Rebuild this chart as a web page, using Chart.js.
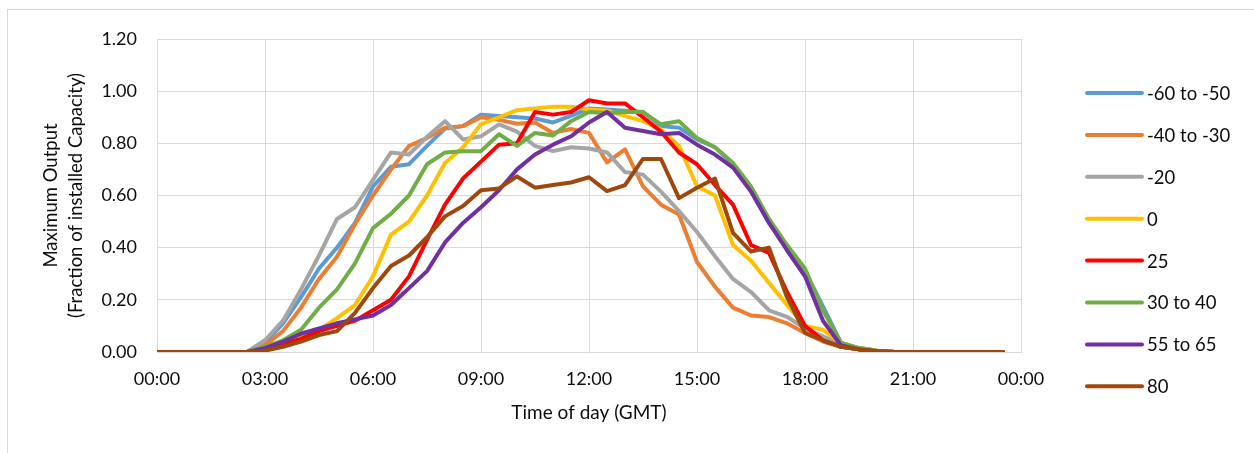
<!DOCTYPE html>
<html>
<head>
<meta charset="utf-8">
<script src="https://cdn.jsdelivr.net/npm/chart.js@4.4.1/dist/chart.umd.min.js"></script>
<style>
  html, body { margin: 0; padding: 0; background: #ffffff; }
  #wrap { width: 1254px; height: 453px; }
</style>
</head>
<body>
<div id="wrap"><canvas id="c" width="1254" height="453"></canvas></div>
<script>
const times = ["00:00","00:30","01:00","01:30","02:00","02:30","03:00","03:30","04:00","04:30",
  "05:00","05:30","06:00","06:30","07:00","07:30","08:00","08:30","09:00","09:30",
  "10:00","10:30","11:00","11:30","12:00","12:30","13:00","13:30","14:00","14:30",
  "15:00","15:30","16:00","16:30","17:00","17:30","18:00","18:30","19:00","19:30",
  "20:00","20:30","21:00","21:30","22:00","22:30","23:00","23:30"];

const seriesNames = ["-60 to -50", "-40 to -30", "-20", "0", "25", "30 to 40", "55 to 65", "80"];

const s60to50 = [0,0,0,0,0, 0,0.035,0.11,0.21,0.32, 0.40,0.495,0.635,0.71,0.72, 0.79,0.857,0.866,0.91,0.905,
  0.90,0.895,0.88,0.905,0.934, 0.93,0.925,0.92,0.866,0.86, 0.815,0.785,0.72,0.62,0.495,
  0.405,0.31,0.175,0.035,0.015, 0.005,0,0,0,0, 0,0,0];
const s40to30 = [0,0,0,0,0, 0,0.025,0.08,0.17,0.28, 0.365,0.49,0.60,0.70,0.79, 0.82,0.86,0.866,0.90,0.89,
  0.875,0.88,0.84,0.855,0.84, 0.727,0.777,0.635,0.565,0.527, 0.345,0.25,0.17,0.14,0.134,
  0.11,0.073,0.04,0.02,0.01, 0.003,0,0,0,0, 0,0,0];
const s20 = [0,0,0,0,0, 0,0.045,0.12,0.24,0.37, 0.51,0.555,0.66,0.765,0.757, 0.825,0.885,0.815,0.827,0.873,
  0.845,0.79,0.77,0.785,0.78, 0.765,0.69,0.68,0.615,0.54, 0.46,0.367,0.28,0.23,0.16,
  0.135,0.09,0.06,0.03,0.015, 0.005,0,0,0,0, 0,0,0];
const s0 = [0,0,0,0,0, 0,0.01,0.03,0.055,0.085, 0.13,0.18,0.29,0.45,0.50, 0.60,0.725,0.785,0.873,0.90,
  0.927,0.934,0.94,0.94,0.93, 0.925,0.905,0.885,0.853,0.79, 0.635,0.60,0.41,0.35,0.265,
  0.18,0.10,0.085,0.035,0.015, 0.005,0,0,0,0, 0,0,0];
const s25 = [0,0,0,0,0, 0,0.012,0.03,0.05,0.08, 0.10,0.12,0.16,0.20,0.29, 0.43,0.565,0.665,0.73,0.795,
  0.80,0.92,0.91,0.92,0.965, 0.953,0.953,0.90,0.845,0.765, 0.72,0.64,0.565,0.41,0.38,
  0.23,0.10,0.045,0.02,0.01, 0.003,0,0,0,0, 0,0,0];
const s30to40 = [0,0,0,0,0, 0,0.02,0.045,0.085,0.17, 0.24,0.34,0.475,0.53,0.60, 0.72,0.765,0.77,0.77,0.835,
  0.79,0.84,0.83,0.885,0.92, 0.915,0.92,0.92,0.873,0.885, 0.82,0.785,0.725,0.635,0.51,
  0.41,0.32,0.16,0.035,0.015, 0.005,0,0,0,0, 0,0,0];
const s55to65 = [0,0,0,0,0, 0,0.015,0.04,0.07,0.09, 0.11,0.125,0.14,0.18,0.245, 0.31,0.42,0.495,0.555,0.62,
  0.70,0.757,0.795,0.827,0.88, 0.92,0.86,0.847,0.835,0.84, 0.795,0.757,0.707,0.615,0.495,
  0.39,0.29,0.12,0.025,0.01, 0.003,0,0,0,0, 0,0,0];
const s80 = [0,0,0,0,0, 0,0.005,0.02,0.04,0.065, 0.08,0.15,0.245,0.33,0.37, 0.44,0.52,0.56,0.62,0.627,
  0.673,0.63,0.64,0.65,0.67, 0.617,0.64,0.74,0.74,0.59, 0.63,0.665,0.457,0.385,0.40,
  0.21,0.073,0.045,0.02,0.01, 0.003,0,0,0,0, 0,0,0];

const seriesValues = [s60to50, s40to30, s20, s0, s25, s30to40, s55to65, s80];
const seriesColors = ["#5B9BD5", "#ED7D31", "#A5A5A5", "#FFC000", "#FF0000", "#70AD47", "#7030A0", "#9E480E"];

const xTickHours = [0, 3, 6, 9, 12, 15, 18, 21, 24];
const yTicks = [0, 0.2, 0.4, 0.6, 0.8, 1.0, 1.2];

function toHours(t) { const p = t.split(":"); return parseInt(p[0], 10) + parseInt(p[1], 10) / 60; }

const FONT = "Lato, 'Open Sans', sans-serif";
const TEXT = "#0d0d0d";
const GRID = "#d9d9d9";

const datasets = seriesNames.map((name, i) => ({
  label: name,
  data: times.map((t, k) => ({ x: toHours(t), y: seriesValues[i][k] })),
  borderColor: seriesColors[i],
  backgroundColor: seriesColors[i],
  borderWidth: 4,
  pointRadius: 0,
  tension: 0,
  fill: false,
  borderJoinStyle: "round",
  borderCapStyle: "round",
  order: -i
}));

const frameAndLegend = {
  id: "frameAndLegend",
  beforeDraw(chart) {
    const ctx = chart.ctx;
    ctx.save();
    ctx.fillStyle = "#ffffff";
    ctx.fillRect(0, 0, chart.width, chart.height);
    ctx.strokeStyle = GRID;
    ctx.lineWidth = 1;
    ctx.strokeRect(7.5, 9.5, 1260, 460);
    ctx.restore();
  },
  afterDraw(chart) {
    const ctx = chart.ctx;
    ctx.save();
    const x0 = 1087, x1 = 1142, top = 93, step = 41.9;
    ctx.font = "18.5px " + FONT;
    ctx.textBaseline = "middle";
    ctx.textAlign = "left";
    seriesNames.forEach((name, i) => {
      const y = top + i * step;
      ctx.strokeStyle = seriesColors[i];
      ctx.lineWidth = 4;
      ctx.lineCap = "round";
      ctx.beginPath();
      ctx.moveTo(x0, y);
      ctx.lineTo(x1, y);
      ctx.stroke();
      ctx.fillStyle = TEXT;
      ctx.fillText(name, x1 + 5, y + 1);
    });
    ctx.restore();
  }
};

new Chart(document.getElementById("c"), {
  type: "line",
  data: { datasets },
  options: {
    responsive: false,
    animation: false,
    devicePixelRatio: 1,
    layout: { padding: { left: 39, top: 39, right: 233, bottom: 29 } },
    plugins: { legend: { display: false }, tooltip: { enabled: false } },
    scales: {
      x: {
        type: "linear",
        min: 0, max: 24,
        afterBuildTicks(scale) { scale.ticks = xTickHours.map(v => ({ value: v })); },
        afterFit(scale) { scale.height = 453 - 29 - 352; },
        grid: { color: GRID, lineWidth: 1, drawTicks: false },
        border: { color: GRID, width: 1 },
        ticks: {
          padding: 16,
          color: TEXT,
          font: { family: FONT, size: 18 },
          callback: v => String(v % 24).padStart(2, "0") + ":00"
        },
        title: {
          display: true,
          text: "Time of day (GMT)",
          color: TEXT,
          font: { family: FONT, size: 19, lineHeight: "23px" },
          padding: 0
        }
      },
      y: {
        min: 0, max: 1.2,
        afterBuildTicks(scale) { scale.ticks = yTicks.map(v => ({ value: v })); },
        afterFit(scale) { scale.width = 157 - 39; },
        grid: { color: GRID, lineWidth: 1, drawTicks: false },
        border: { color: GRID, width: 1 },
        ticks: {
          padding: 20,
          color: TEXT,
          font: { family: FONT, size: 18 },
          callback: v => Number(v).toFixed(2)
        },
        title: {
          display: true,
          text: ["Maximum Output", "(Fraction of installed Capacity)"],
          color: TEXT,
          font: { family: FONT, size: 18.5, lineHeight: "25px" },
          padding: 0
        }
      }
    }
  },
  plugins: [frameAndLegend]
});
</script>
</body>
</html>
